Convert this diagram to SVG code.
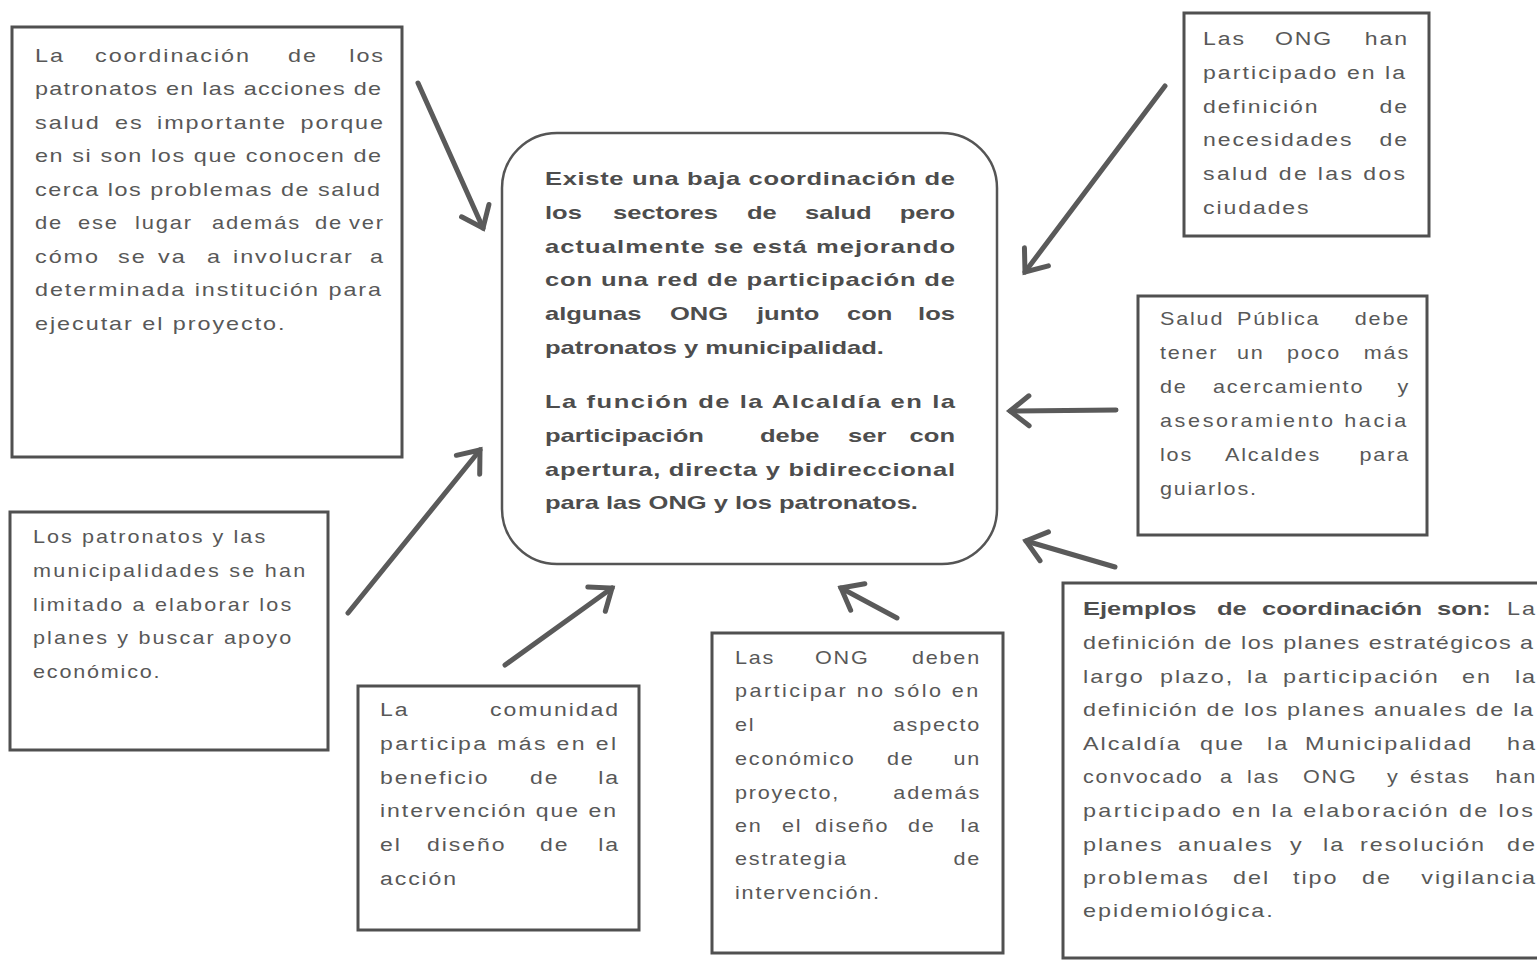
<svg xmlns="http://www.w3.org/2000/svg" width="1537" height="963" viewBox="0 0 1537 963">
  <style>
    .box { fill: #ffffff; stroke: #505050; stroke-width: 3; }
    .hub { fill: #ffffff; stroke: #555555; stroke-width: 2.5; }
    .r { font-family: "Liberation Sans", Arial, sans-serif; font-size: 18px; fill: #585858; letter-spacing: 1.5px; }
    .b { font-family: "Liberation Sans", Arial, sans-serif; font-size: 18.5px; font-weight: bold; fill: #4d4d4d; }
    .e { text-anchor: end; }
    .arrow { fill: none; stroke: #5a5a5a; stroke-width: 5; stroke-linecap: round; marker-end: url(#chev); }
  </style>
  <defs>
    <marker id="chev" markerUnits="userSpaceOnUse" viewBox="-30 -25 40 50" markerWidth="40" markerHeight="50" refX="0" refY="0" orient="auto" overflow="visible">
      <path d="M -19 -15 L 0 0 L -19 15" fill="none" stroke="#5a5a5a" stroke-width="5" stroke-linecap="round" stroke-linejoin="miter"/>
    </marker>
  </defs>
  <rect width="1537" height="963" fill="#ffffff"/>

  <!-- connectors: every arrow points at the central statement -->
  <g id="connectors">
    <path class="arrow" d="M418 83 L483 228"/>
    <path class="arrow" d="M1165 86 L1025 272"/>
    <path class="arrow" d="M1116 410 L1010 411"/>
    <path class="arrow" d="M1115 567 L1026 541"/>
    <path class="arrow" d="M348 613 L480 450"/>
    <path class="arrow" d="M505 665 L612 588"/>
    <path class="arrow" d="M897 618 L841 588"/>
  </g>

  <!-- central statement (bold type, widened) -->
  <g id="hub">
    <rect class="hub" x="502" y="133" width="495" height="431" rx="55" ry="55"/>
    <text class="b" transform="translate(545 185) scale(1.38 1)" textLength="297.1" lengthAdjust="spacing">Existe una baja coordinación de</text>
    <text class="b" transform="translate(545 219) scale(1.38 1)">los</text>
    <text class="b" transform="translate(613 219) scale(1.38 1)">sectores</text>
    <text class="b" transform="translate(747 219) scale(1.38 1)">de</text>
    <text class="b" transform="translate(805 219) scale(1.38 1)">salud</text>
    <text class="b e" transform="translate(955 219) scale(1.38 1)">pero</text>
    <text class="b" transform="translate(545 252.5) scale(1.38 1)" textLength="297.1" lengthAdjust="spacing">actualmente se está mejorando</text>
    <text class="b" transform="translate(545 286) scale(1.38 1)" textLength="297.1" lengthAdjust="spacing">con una red de participación de</text>
    <text class="b" transform="translate(545 320) scale(1.38 1)">algunas</text>
    <text class="b" transform="translate(670 320) scale(1.38 1)">ONG</text>
    <text class="b" transform="translate(757 320) scale(1.38 1)">junto</text>
    <text class="b" transform="translate(847 320) scale(1.38 1)">con</text>
    <text class="b e" transform="translate(955 320) scale(1.38 1)">los</text>
    <text class="b" transform="translate(545 354) scale(1.38 1)">patronatos y municipalidad.</text>
    <text class="b" transform="translate(545 408) scale(1.38 1)" textLength="297.1" lengthAdjust="spacing">La función de la Alcaldía en la</text>
    <text class="b" transform="translate(545 442) scale(1.38 1)">participación</text>
    <text class="b" transform="translate(760 442) scale(1.38 1)">debe</text>
    <text class="b" transform="translate(848 442) scale(1.38 1)">ser</text>
    <text class="b e" transform="translate(955 442) scale(1.38 1)">con</text>
    <text class="b" transform="translate(545 475.5) scale(1.38 1)" textLength="297.1" lengthAdjust="spacing">apertura, directa y bidireccional</text>
    <text class="b" transform="translate(545 509) scale(1.38 1)">para las ONG y los patronatos.</text>
  </g>

  <!-- top left -->
  <g id="patronatos-coordinacion">
    <rect class="box" x="12" y="27" width="390" height="430"/>
    <text class="r" transform="translate(35 61.5) scale(1.3 1)">La</text>
    <text class="r" transform="translate(95 61.5) scale(1.3 1)">coordinación</text>
    <text class="r" transform="translate(288 61.5) scale(1.3 1)">de</text>
    <text class="r e" transform="translate(385 61.5) scale(1.3 1)">los</text>
    <text class="r" transform="translate(35 95) scale(1.3 1)" textLength="267.7" lengthAdjust="spacing">patronatos en las acciones de</text>
    <text class="r" transform="translate(35 128.5) scale(1.3 1)">salud</text>
    <text class="r" transform="translate(115 128.5) scale(1.3 1)">es</text>
    <text class="r" transform="translate(157 128.5) scale(1.3 1)">importante</text>
    <text class="r e" transform="translate(385 128.5) scale(1.3 1)">porque</text>
    <text class="r" transform="translate(35 162) scale(1.3 1)" textLength="267.7" lengthAdjust="spacing">en si son los que conocen de</text>
    <text class="r" transform="translate(35 195.5) scale(1.3 1)" textLength="266.9" lengthAdjust="spacing">cerca los problemas de salud</text>
    <text class="r" transform="translate(35 229) scale(1.22 1)">de</text>
    <text class="r" transform="translate(78 229) scale(1.22 1)">ese</text>
    <text class="r" transform="translate(135 229) scale(1.22 1)">lugar</text>
    <text class="r" transform="translate(212 229) scale(1.22 1)">además</text>
    <text class="r" transform="translate(315 229) scale(1.22 1)">de</text>
    <text class="r e" transform="translate(385 229) scale(1.22 1)">ver</text>
    <text class="r" transform="translate(35 262.5) scale(1.3 1)">cómo</text>
    <text class="r" transform="translate(118 262.5) scale(1.3 1)">se</text>
    <text class="r" transform="translate(158 262.5) scale(1.3 1)">va</text>
    <text class="r" transform="translate(207 262.5) scale(1.3 1)">a</text>
    <text class="r" transform="translate(233 262.5) scale(1.3 1)">involucrar</text>
    <text class="r e" transform="translate(385 262.5) scale(1.3 1)">a</text>
    <text class="r" transform="translate(35 296) scale(1.3 1)" textLength="267.7" lengthAdjust="spacing">determinada institución para</text>
    <text class="r" transform="translate(35 329.5) scale(1.3 1)">ejecutar el proyecto.</text>
  </g>

  <!-- top right -->
  <g id="ong-necesidades">
    <rect class="box" x="1184" y="13" width="245" height="223"/>
    <text class="r" transform="translate(1203 45) scale(1.28 1)">Las</text>
    <text class="r" transform="translate(1275 45) scale(1.28 1)">ONG</text>
    <text class="r e" transform="translate(1409 45) scale(1.28 1)">han</text>
    <text class="r" transform="translate(1203 79) scale(1.28 1)" textLength="159.4" lengthAdjust="spacing">participado en la</text>
    <text class="r" transform="translate(1203 112.5) scale(1.28 1)">definición</text>
    <text class="r e" transform="translate(1409 112.5) scale(1.28 1)">de</text>
    <text class="r" transform="translate(1203 146) scale(1.28 1)">necesidades</text>
    <text class="r e" transform="translate(1409 146) scale(1.28 1)">de</text>
    <text class="r" transform="translate(1203 180) scale(1.28 1)" textLength="159.4" lengthAdjust="spacing">salud de las dos</text>
    <text class="r" transform="translate(1203 213.5) scale(1.28 1)">ciudades</text>
  </g>

  <!-- middle right -->
  <g id="salud-publica">
    <rect class="box" x="1138" y="296" width="289" height="239"/>
    <text class="r" transform="translate(1160 325) scale(1.2 1)">Salud</text>
    <text class="r" transform="translate(1237 325) scale(1.2 1)">Pública</text>
    <text class="r e" transform="translate(1410 325) scale(1.2 1)">debe</text>
    <text class="r" transform="translate(1160 359) scale(1.2 1)">tener</text>
    <text class="r" transform="translate(1237 359) scale(1.2 1)">un</text>
    <text class="r" transform="translate(1287 359) scale(1.2 1)">poco</text>
    <text class="r e" transform="translate(1410 359) scale(1.2 1)">más</text>
    <text class="r" transform="translate(1160 393) scale(1.2 1)">de</text>
    <text class="r" transform="translate(1213 393) scale(1.2 1)">acercamiento</text>
    <text class="r e" transform="translate(1410 393) scale(1.2 1)">y</text>
    <text class="r" transform="translate(1160 427) scale(1.2 1)" textLength="206.7" lengthAdjust="spacing">asesoramiento hacia</text>
    <text class="r" transform="translate(1160 461) scale(1.2 1)">los</text>
    <text class="r" transform="translate(1225 461) scale(1.2 1)">Alcaldes</text>
    <text class="r e" transform="translate(1410 461) scale(1.2 1)">para</text>
    <text class="r" transform="translate(1160 495) scale(1.2 1)">guiarlos.</text>
  </g>

  <!-- bottom right -->
  <g id="ejemplos-coordinacion">
    <rect class="box" x="1063" y="583" width="500" height="375"/>
    <text class="b" transform="translate(1083 615) scale(1.38 1)">Ejemplos</text>
    <text class="b" transform="translate(1217 615) scale(1.38 1)">de</text>
    <text class="b" transform="translate(1262 615) scale(1.38 1)">coordinación</text>
    <text class="b" transform="translate(1437 615) scale(1.38 1)">son:</text>
    <text class="r e" transform="translate(1537 615) scale(1.3 1)">La</text>
    <text class="r" transform="translate(1083 649) scale(1.3 1)" textLength="347.7" lengthAdjust="spacing">definición de los planes estratégicos a</text>
    <text class="r" transform="translate(1083 682.5) scale(1.3 1)">largo</text>
    <text class="r" transform="translate(1160 682.5) scale(1.3 1)">plazo,</text>
    <text class="r" transform="translate(1247 682.5) scale(1.3 1)">la</text>
    <text class="r" transform="translate(1283 682.5) scale(1.3 1)">participación</text>
    <text class="r" transform="translate(1462 682.5) scale(1.3 1)">en</text>
    <text class="r e" transform="translate(1537 682.5) scale(1.3 1)">la</text>
    <text class="r" transform="translate(1083 716) scale(1.3 1)" textLength="347.7" lengthAdjust="spacing">definición de los planes anuales de la</text>
    <text class="r" transform="translate(1083 750) scale(1.3 1)">Alcaldía</text>
    <text class="r" transform="translate(1200 750) scale(1.3 1)">que</text>
    <text class="r" transform="translate(1267 750) scale(1.3 1)">la</text>
    <text class="r" transform="translate(1305 750) scale(1.3 1)">Municipalidad</text>
    <text class="r e" transform="translate(1537 750) scale(1.3 1)">ha</text>
    <text class="r" transform="translate(1083 783) scale(1.2 1)">convocado</text>
    <text class="r" transform="translate(1220 783) scale(1.2 1)">a</text>
    <text class="r" transform="translate(1247 783) scale(1.2 1)">las</text>
    <text class="r" transform="translate(1303 783) scale(1.2 1)">ONG</text>
    <text class="r" transform="translate(1387 783) scale(1.2 1)">y</text>
    <text class="r" transform="translate(1410 783) scale(1.2 1)">éstas</text>
    <text class="r e" transform="translate(1537 783) scale(1.2 1)">han</text>
    <text class="r" transform="translate(1083 817) scale(1.3 1)" textLength="347.7" lengthAdjust="spacing">participado en la elaboración de los</text>
    <text class="r" transform="translate(1083 850.5) scale(1.3 1)">planes</text>
    <text class="r" transform="translate(1178 850.5) scale(1.3 1)">anuales</text>
    <text class="r" transform="translate(1290 850.5) scale(1.3 1)">y</text>
    <text class="r" transform="translate(1323 850.5) scale(1.3 1)">la</text>
    <text class="r" transform="translate(1360 850.5) scale(1.3 1)">resolución</text>
    <text class="r e" transform="translate(1537 850.5) scale(1.3 1)">de</text>
    <text class="r" transform="translate(1083 884) scale(1.3 1)">problemas</text>
    <text class="r" transform="translate(1233 884) scale(1.3 1)">del</text>
    <text class="r" transform="translate(1293 884) scale(1.3 1)">tipo</text>
    <text class="r" transform="translate(1362 884) scale(1.3 1)">de</text>
    <text class="r e" transform="translate(1537 884) scale(1.3 1)">vigilancia</text>
    <text class="r" transform="translate(1083 917) scale(1.3 1)">epidemiológica.</text>
  </g>

  <!-- middle left -->
  <g id="patronatos-municipalidades">
    <rect class="box" x="10" y="512" width="318" height="238"/>
    <text class="r" transform="translate(33 543) scale(1.2 1)" textLength="195" lengthAdjust="spacing">Los patronatos y las</text>
    <text class="r" transform="translate(33 577) scale(1.2 1)" textLength="228.3" lengthAdjust="spacing">municipalidades se han</text>
    <text class="r" transform="translate(33 610.5) scale(1.2 1)" textLength="216.7" lengthAdjust="spacing">limitado a elaborar los</text>
    <text class="r" transform="translate(33 644) scale(1.2 1)" textLength="216.7" lengthAdjust="spacing">planes y buscar apoyo</text>
    <text class="r" transform="translate(33 677.5) scale(1.2 1)">económico.</text>
  </g>

  <!-- bottom centre left -->
  <g id="comunidad">
    <rect class="box" x="358" y="686" width="281" height="244"/>
    <text class="r" transform="translate(380 716) scale(1.28 1)">La</text>
    <text class="r e" transform="translate(620 716) scale(1.28 1)">comunidad</text>
    <text class="r" transform="translate(380 750) scale(1.28 1)" textLength="185.9" lengthAdjust="spacing">participa más en el</text>
    <text class="r" transform="translate(380 784) scale(1.28 1)">beneficio</text>
    <text class="r" transform="translate(530 784) scale(1.28 1)">de</text>
    <text class="r e" transform="translate(620 784) scale(1.28 1)">la</text>
    <text class="r" transform="translate(380 817) scale(1.28 1)" textLength="185.9" lengthAdjust="spacing">intervención que en</text>
    <text class="r" transform="translate(380 851) scale(1.28 1)">el</text>
    <text class="r" transform="translate(427 851) scale(1.28 1)">diseño</text>
    <text class="r" transform="translate(540 851) scale(1.28 1)">de</text>
    <text class="r e" transform="translate(620 851) scale(1.28 1)">la</text>
    <text class="r" transform="translate(380 885) scale(1.28 1)">acción</text>
  </g>

  <!-- bottom centre right -->
  <g id="ong-diseno">
    <rect class="box" x="712" y="633" width="291" height="320"/>
    <text class="r" transform="translate(735 664) scale(1.2 1)">Las</text>
    <text class="r" transform="translate(815 664) scale(1.2 1)">ONG</text>
    <text class="r e" transform="translate(981 664) scale(1.2 1)">deben</text>
    <text class="r" transform="translate(735 697) scale(1.2 1)" textLength="204.2" lengthAdjust="spacing">participar no sólo en</text>
    <text class="r" transform="translate(735 731) scale(1.2 1)">el</text>
    <text class="r e" transform="translate(981 731) scale(1.2 1)">aspecto</text>
    <text class="r" transform="translate(735 765) scale(1.2 1)">económico</text>
    <text class="r" transform="translate(887 765) scale(1.2 1)">de</text>
    <text class="r e" transform="translate(981 765) scale(1.2 1)">un</text>
    <text class="r" transform="translate(735 799) scale(1.2 1)">proyecto,</text>
    <text class="r e" transform="translate(981 799) scale(1.2 1)">además</text>
    <text class="r" transform="translate(735 832) scale(1.2 1)">en</text>
    <text class="r" transform="translate(782 832) scale(1.2 1)">el</text>
    <text class="r" transform="translate(815 832) scale(1.2 1)">diseño</text>
    <text class="r" transform="translate(908 832) scale(1.2 1)">de</text>
    <text class="r e" transform="translate(981 832) scale(1.2 1)">la</text>
    <text class="r" transform="translate(735 865) scale(1.2 1)">estrategia</text>
    <text class="r e" transform="translate(981 865) scale(1.2 1)">de</text>
    <text class="r" transform="translate(735 899) scale(1.2 1)">intervención.</text>
  </g>
</svg>
